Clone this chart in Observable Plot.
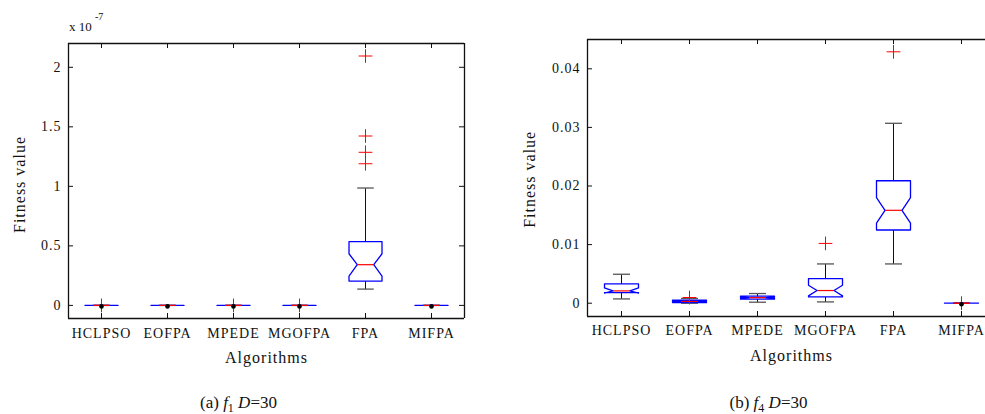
<!DOCTYPE html>
<html><head><meta charset="utf-8">
<script src="https://cdn.jsdelivr.net/npm/d3@7"></script>
<script src="https://cdn.jsdelivr.net/npm/@observablehq/plot@0.6"></script>
<style>
html,body{margin:0;padding:0;background:#fff;overflow:hidden;width:985px;height:414px;}
#wrap{position:relative;width:985px;height:414px;overflow:hidden;font-family:"Liberation Serif","Times New Roman",serif;color:#111;}
.panel{position:absolute;top:0;max-width:none !important;overflow:hidden !important;}
.cap{position:absolute;font-size:17px;white-space:nowrap;transform:translate(-50%,-50%);}
.sc{position:absolute;white-space:nowrap;line-height:1;}
</style></head><body><div id="wrap"></div>
<script>
// ---------- data ----------
const categories = ["HCLPSO", "EOFPA", "MPEDE", "MGOFPA", "FPA", "MIFPA"];

// (a) f1 D=30, values in units of 1e-7
const f1Q1      = [0, 0, 0, 0, 0.204, 0];
const f1Median  = [0, 0, 0, 0, 0.342, 0];
const f1Q3      = [0, 0, 0, 0, 0.535, 0];
const f1NotchLo = [0, 0, 0, 0, 0.246, 0];
const f1NotchHi = [0, 0, 0, 0, 0.434, 0];
const f1WhiskLo = [0, 0, 0, 0, 0.137, 0];
const f1WhiskHi = [0, 0, 0, 0, 0.986, 0];
const f1OutlierCat = ["HCLPSO", "MPEDE", "MGOFPA", "FPA", "FPA", "FPA", "FPA"];
const f1OutlierVal = [0, 0, 0, 1.19, 1.286, 1.423, 2.095];
const f1DotCat = ["HCLPSO", "EOFPA", "MPEDE", "MGOFPA", "MIFPA"];
const f1DotVal = [0, 0, 0, 0, 0];
const f1YTicks = [0, 0.5, 1, 1.5, 2];
const f1YTickLabels = ["0", "0.5", "1", "1.5", "2"];

// (b) f4 D=30
const f4Q1      = [0.00182, 0.0001, 0.00068, 0.00107, 0.01249, 0];
const f4Median  = [0.0021, 0.0003, 0.00095, 0.00216, 0.01585, 0];
const f4Q3      = [0.00329, 0.0005, 0.0012, 0.0042, 0.0209, 0];
const f4NotchLo = [0.00172, 0.00024, 0.00085, 0.00125, 0.01368, 0];
const f4NotchHi = [0.0026, 0.00036, 0.00105, 0.00307, 0.0180, 0];
const f4WhiskLo = [0.00073, 0, 0.00017, 0.00022, 0.0067, 0];
const f4WhiskHi = [0.00494, 0.0008, 0.00165, 0.0067, 0.0307, 0];
const f4OutlierCat = ["EOFPA", "MGOFPA", "FPA", "MIFPA"];
const f4OutlierVal = [0.00097, 0.0102, 0.0429, 0];
const f4DotCat = ["MIFPA"];
const f4DotVal = [0];
const f4YTicks = [0, 0.01, 0.02, 0.03, 0.04];
const f4YTickLabels = ["0", "0.01", "0.02", "0.03", "0.04"];

// ---------- drawing ----------
const W = 0.25;   // box half width (x units)
const WN = 0.125; // notch inner half width
const X_DOMAIN = [0.5, 6.5];

function rowsOf(q1, med, q3, nlo, nhi, wlo, whi) {
  return categories.map((c, i) => ({cat: c, x: i + 1, q1: q1[i], med: med[i], q3: q3[i],
    nlo: nlo[i], nhi: nhi[i], wlo: wlo[i], whi: whi[i]}));
}
function polyOf(rows) {
  const pts = [];
  for (const r of rows) {
    const L = r.x - W, R = r.x + W, iL = r.x - WN, iR = r.x + WN;
    [[L, r.q1], [L, r.nlo], [iL, r.med], [L, r.nhi], [L, r.q3], [R, r.q3], [R, r.nhi],
     [iR, r.med], [R, r.nlo], [R, r.q1], [L, r.q1]].forEach(([x, y]) => pts.push({cat: r.cat, x, y}));
  }
  return pts;
}
function pointsOf(cats, vals) {
  return cats.map((c, i) => ({x: categories.indexOf(c) + 1, y: vals[i]}));
}

function panel(o) {
  const rows = rowsOf(o.q1, o.med, o.q3, o.nlo, o.nhi, o.wlo, o.whi);
  const frameW = o.width - o.marginLeft - o.marginRight;
  const frameH = o.height - o.marginTop - o.marginBottom;
  const xt = categories.map((c, i) => i + 1);
  const ink = "#111";
  const xScale = {type: "linear", domain: X_DOMAIN, axis: null};
  if (o.xRange) xScale.range = o.xRange;
  return Plot.plot({
    width: o.width, height: o.height,
    marginLeft: o.marginLeft, marginRight: o.marginRight, marginTop: o.marginTop, marginBottom: o.marginBottom,
    style: {fontFamily: "'Liberation Serif','Times New Roman',serif", fontSize: "14px", background: "transparent", letterSpacing: "1px", color: ink},
    x: xScale,
    y: {type: "linear", domain: o.yDomain, axis: null},
    marks: [
      // inward ticks
      Plot.tickY(o.yTicks, {y: d => d, insetRight: frameW - 5, stroke: ink}),
      o.rightEdge ? Plot.tickY(o.yTicks, {y: d => d, insetLeft: frameW - 5, stroke: ink}) : null,
      Plot.tickX(xt, {x: d => d, insetBottom: frameH - 5, stroke: ink}),
      Plot.tickX(xt, {x: d => d, insetTop: frameH - 5, stroke: ink}),
      Plot.axisY({ticks: o.yTicks, tickSize: 0, tickPadding: 7, fontSize: 14, label: null,
        tickFormat: d => o.yTickLabels[o.yTicks.indexOf(d)]}),
      Plot.axisX({ticks: xt, tickSize: 0, tickPadding: o.xPad, fontSize: 14, label: null,
        tickFormat: d => categories[d - 1]}),
      // whiskers
      Plot.link(rows, {x1: "x", x2: "x", y1: "q3", y2: "whi", stroke: ink, strokeWidth: 1}),
      Plot.link(rows, {x1: "x", x2: "x", y1: "q1", y2: "wlo", stroke: ink, strokeWidth: 1}),
      Plot.link(rows, {x1: d => d.x - WN, x2: d => d.x + WN, y1: "whi", y2: "whi", stroke: "#555", strokeWidth: 1.3}),
      Plot.link(rows, {x1: d => d.x - WN, x2: d => d.x + WN, y1: "wlo", y2: "wlo", stroke: "#555", strokeWidth: 1.3}),
      // notched boxes
      Plot.line(polyOf(rows), {x: "x", y: "y", z: "cat", stroke: "#0000ff", strokeWidth: 1.3}),
      // medians
      Plot.link(rows, {x1: d => d.x - WN, x2: d => d.x + WN, y1: "med", y2: "med", stroke: "#ff0000", strokeWidth: 1.2}),
      // outliers
      Plot.dot(pointsOf(o.outCat, o.outVal), {x: "x", y: "y", symbol: "plus", r: 4.5, stroke: "#ff0000", strokeWidth: 1}),
      Plot.dot(pointsOf(o.dotCat, o.dotVal), {x: "x", y: "y", r: 2.3, fill: "#000", dy: 1}),
      // axes box edges
      Plot.ruleX(o.rightEdge ? X_DOMAIN : [X_DOMAIN[0]], {x: d => d, stroke: ink, strokeWidth: 1.3}),
      Plot.ruleY(o.yDomain, {y: d => d, stroke: ink, strokeWidth: 1.3}),
      // axis titles
      Plot.text(["Fitness value"], {frameAnchor: "left", dx: o.yLabDx, dy: o.yLabDy, rotate: -90,
        textAnchor: "middle", lineAnchor: "middle", fontSize: 16, text: d => d, fill: ink}),
      Plot.text(["Algorithms"], {frameAnchor: "bottom", dx: o.xLabDx, dy: o.xLabDy, textAnchor: "middle",
        lineAnchor: "middle", fontSize: 16, text: d => d, fill: ink})
    ]
  });
}

const wrap = document.getElementById("wrap");

const left = panel({
  width: 485, height: 414, marginLeft: 68, marginRight: 21, marginTop: 43, marginBottom: 96,
  yDomain: [-0.11, 2.2], yTicks: f1YTicks, yTickLabels: f1YTickLabels,
  q1: f1Q1, med: f1Median, q3: f1Q3, nlo: f1NotchLo, nhi: f1NotchHi, wlo: f1WhiskLo, whi: f1WhiskHi,
  outCat: f1OutlierCat, outVal: f1OutlierVal, dotCat: f1DotCat, dotVal: f1DotVal,
  xPad: 9.5, yLabDx: -49, yLabDy: 3.5, xLabDx: 0, xLabDy: 39, rightEdge: true
});
left.classList.add("panel"); left.style.left = "0px";
wrap.appendChild(left);

// right panel: its axes box runs past the page's right edge (cut off, as in the reference)
const right = panel({
  width: 485, height: 414, marginLeft: 87, marginRight: 0, marginTop: 39, marginBottom: 98,
  xRange: [87, 495],
  yDomain: [-0.00227, 0.045], yTicks: f4YTicks, yTickLabels: f4YTickLabels,
  q1: f4Q1, med: f4Median, q3: f4Q3, nlo: f4NotchLo, nhi: f4NotchHi, wlo: f4WhiskLo, whi: f4WhiskHi,
  outCat: f4OutlierCat, outVal: f4OutlierVal, dotCat: f4DotCat, dotVal: f4DotVal,
  xPad: 9, yLabDx: -58, yLabDy: 1.3, xLabDx: 5, xLabDy: 39, rightEdge: false
});
right.classList.add("panel"); right.style.left = "500px";
wrap.appendChild(right);

// exponent label and captions
wrap.insertAdjacentHTML("beforeend",
  '<div class="sc" style="left:69px;top:19.6px;font-size:13px;">x 10</div>' +
  '<div class="sc" style="left:95px;top:11.6px;font-size:10px;">-7</div>' +
  '<div class="cap" style="left:238.5px;top:403px;">(a) <i>f</i><span style="font-size:12px;position:relative;top:4px;">1</span> <i>D</i>=30</div>' +
  '<div class="cap" style="left:768.5px;top:403px;">(b) <i>f</i><span style="font-size:12px;position:relative;top:4px;">4</span> <i>D</i>=30</div>'
);
</script>
</body></html>
